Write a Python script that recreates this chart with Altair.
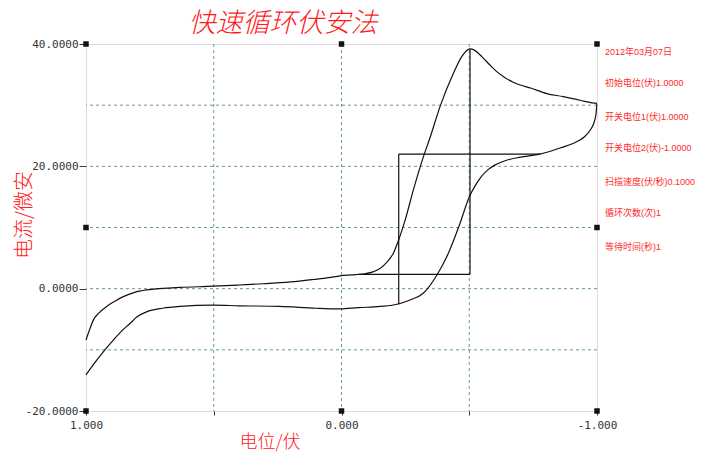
import altair as alt
import pandas as pd

# ---- data ----
fwd_x = [1.0, 0.985, 0.971, 0.95, 0.919, 0.885, 0.854, 0.81, 0.763, 0.70, 0.632, 0.502, 0.40, 0.306,
         0.20, 0.110, 0.05, 0.006, -0.04, -0.085, -0.12, -0.151, -0.177, -0.203, -0.224, -0.249,
         -0.281, -0.32, -0.345, -0.386, -0.438, -0.47, -0.503, -0.52, -0.55, -0.58, -0.61, -0.64,
         -0.67, -0.70, -0.74, -0.803, -0.868, -0.933, -1.0]
fwd_y = [-8.4, -6.6, -5.1, -4.0, -2.9, -2.0, -1.3, -0.6, -0.2, 0.05, 0.2, 0.4, 0.6, 0.8,
         1.1, 1.5, 1.8, 2.1, 2.25, 2.4, 2.7, 3.3, 4.3, 5.8, 8.0, 11.2,
         16.1, 21.5, 24.5, 29.8, 35.2, 37.9, 39.2, 39.0, 37.9, 36.6, 35.4, 34.5,
         33.8, 33.3, 32.8, 31.9, 31.4, 30.8, 30.3]
rev_x = [-1.0, -0.996, -0.985, -0.973, -0.95, -0.933, -0.855, -0.777, -0.70, -0.646, -0.60, -0.575,
         -0.545, -0.52, -0.50, -0.464, -0.412, -0.373, -0.32, -0.268, -0.222, -0.151, -0.066, 0.006,
         0.10, 0.241, 0.40, 0.502, 0.632, 0.70, 0.763, 0.80, 0.828, 0.86, 0.893, 0.93, 0.958, 1.0]
rev_y = [30.3, 28.5, 26.8, 25.9, 24.8, 24.3, 23.0, 22.0, 21.5, 21.0, 20.2, 19.5,
         18.2, 16.6, 15.0, 10.7, 5.2, 2.2, -0.75, -1.85, -2.5, -2.9, -3.1, -3.3,
         -3.2, -2.9, -2.8, -2.7, -2.9, -3.2, -3.8, -4.6, -5.7, -6.9, -8.4, -10.2, -11.7, -14.1]

# peak baseline marker segments
seg_x1 = [-0.503, -0.066, -0.224, -0.224]
seg_x2 = [-0.503, -0.503, -0.224, -0.777]
seg_y1 = [2.35, 2.35, -2.55, 22.0]
seg_y2 = [39.2, 2.35, 22.0, 22.0]

grid_x = [0.5, 0.0, -0.5]
grid_y = [-10, 0, 10, 20, 30]
x_ticks = [1.0, 0.5, 0.0, -0.5, -1.0]
y_ticks = [-20, 0, 20, 40]

handle_x = [1, 0, -1, 1, -1, 1, 0, -1]
handle_y = [40, 40, 40, 10, 10, -20, -20, -20]

info_text = ["2012年03月07日", "初始电位(伏)1.0000", "开关电位1(伏)1.0000", "开关电位2(伏)-1.0000",
             "扫描速度(伏/秒)0.1000", "循环次数(次)1", "等待时间(秒)1"]
info_y = [38.7, 33.6, 28.0, 22.95, 17.5, 12.3, 6.8]

title_text = "快速循环伏安法"
ytitle_text = "电流/微安"
xtitle_text = "电位/伏"

# ---- tables ----
curve = pd.DataFrame({
    "E": fwd_x + rev_x,
    "I": fwd_y + rev_y,
    "k": list(range(len(fwd_x) + len(rev_x))),
})
segs = pd.DataFrame({"x1": seg_x1, "x2": seg_x2, "y1": seg_y1, "y2": seg_y2})
gx = pd.DataFrame({"E": grid_x})
gy = pd.DataFrame({"I": grid_y})
handles = pd.DataFrame({"E": handle_x, "I": handle_y})
info = pd.DataFrame({"t": info_text, "I": info_y, "E": [-1.0] * len(info_text)})

xs = alt.Scale(domain=[-1, 1], reverse=True, nice=False, zero=False)
ys = alt.Scale(domain=[-20, 40], nice=False, zero=False)

mono = "DejaVu Sans Mono"
cjk = "Noto Sans CJK SC"

x_axis = alt.Axis(values=x_ticks, grid=False, domain=False, title=None,
                  labelFont=mono, labelFontSize=11, labelColor="#333",
                  labelFlush=False, labelOverlap=False,
                  tickColor="#333", tickSize=4, labelPadding=4,
                  labelExpr="(datum.value == 0.5 || datum.value == -0.5) ? '' : "
                            "(datum.value < 0 ? '-' + format(-datum.value, '.3f') : format(datum.value, '.3f'))")
y_axis = alt.Axis(values=y_ticks, grid=False, domain=False, title=None,
                  labelFont=mono, labelFontSize=11, labelColor="#333",
                  labelFlush=False, labelOverlap=False,
                  tickColor="#333", tickSize=7, labelPadding=1,
                  labelExpr="datum.value < 0 ? '-' + format(-datum.value, '.4f') : format(datum.value, '.4f')")

gridc = "#5e9c8c"
vgrid = alt.Chart(gx).mark_rule(color=gridc, strokeDash=[3, 3], strokeWidth=1).encode(
    x=alt.X("E:Q", scale=xs, axis=x_axis))
hgrid = alt.Chart(gy).mark_rule(color=gridc, strokeDash=[3, 3], strokeWidth=1).encode(
    y=alt.Y("I:Q", scale=ys, axis=y_axis))

line = alt.Chart(curve).mark_line(color="#111", strokeWidth=1.2, interpolate="monotone").encode(
    x=alt.X("E:Q", scale=xs), y=alt.Y("I:Q", scale=ys), order="k:Q")

seg = alt.Chart(segs).mark_rule(color="#111", strokeWidth=1.2).encode(
    x=alt.X("x1:Q", scale=xs), x2="x2:Q", y=alt.Y("y1:Q", scale=ys), y2="y2:Q")

hnd = alt.Chart(handles).mark_square(color="#111", size=30, opacity=1).encode(
    x=alt.X("E:Q", scale=xs), y=alt.Y("I:Q", scale=ys))

info_layer = alt.Chart(info).mark_text(align="left", baseline="middle", dx=8,
                                       font="Liberation Sans, Noto Sans CJK SC",
                                       fontSize=9, color="#ff2a2a").encode(
    x=alt.X("E:Q", scale=xs), y=alt.Y("I:Q", scale=ys), text="t:N")

title_layer = alt.Chart(pd.DataFrame({"t": [title_text]})).mark_text(
    font=cjk, fontSize=27, fontStyle="italic", fontWeight=300, color="#ff1a1a",
    align="center", baseline="middle").encode(
    x=alt.value(197), y=alt.value(-20), text="t:N")

ytitle_layer = alt.Chart(pd.DataFrame({"t": [ytitle_text]})).mark_text(
    font=cjk, fontSize=20, fontWeight=300, color="#ff2020", angle=270, align="center", baseline="middle").encode(
    x=alt.value(-61), y=alt.value(171), text="t:N")

xtitle_layer = alt.Chart(pd.DataFrame({"t": [xtitle_text]})).mark_text(
    font=cjk, fontSize=18, fontWeight=300, color="#ff2020", align="center", baseline="middle").encode(
    x=alt.value(184), y=alt.value(399), text="t:N")

chart = alt.layer(vgrid, hgrid, seg, line, hnd, info_layer, title_layer, ytitle_layer, xtitle_layer).properties(
    width=511, height=367,
    autosize=alt.AutoSizeParams(type="none"),
    padding={"left": 78, "top": 36, "right": 101, "bottom": 41},
).configure_view(stroke="#8a8a8a", strokeWidth=2).configure(background="white")

chart.save("out.html", embed_options={"renderer": "svg", "actions": False})
